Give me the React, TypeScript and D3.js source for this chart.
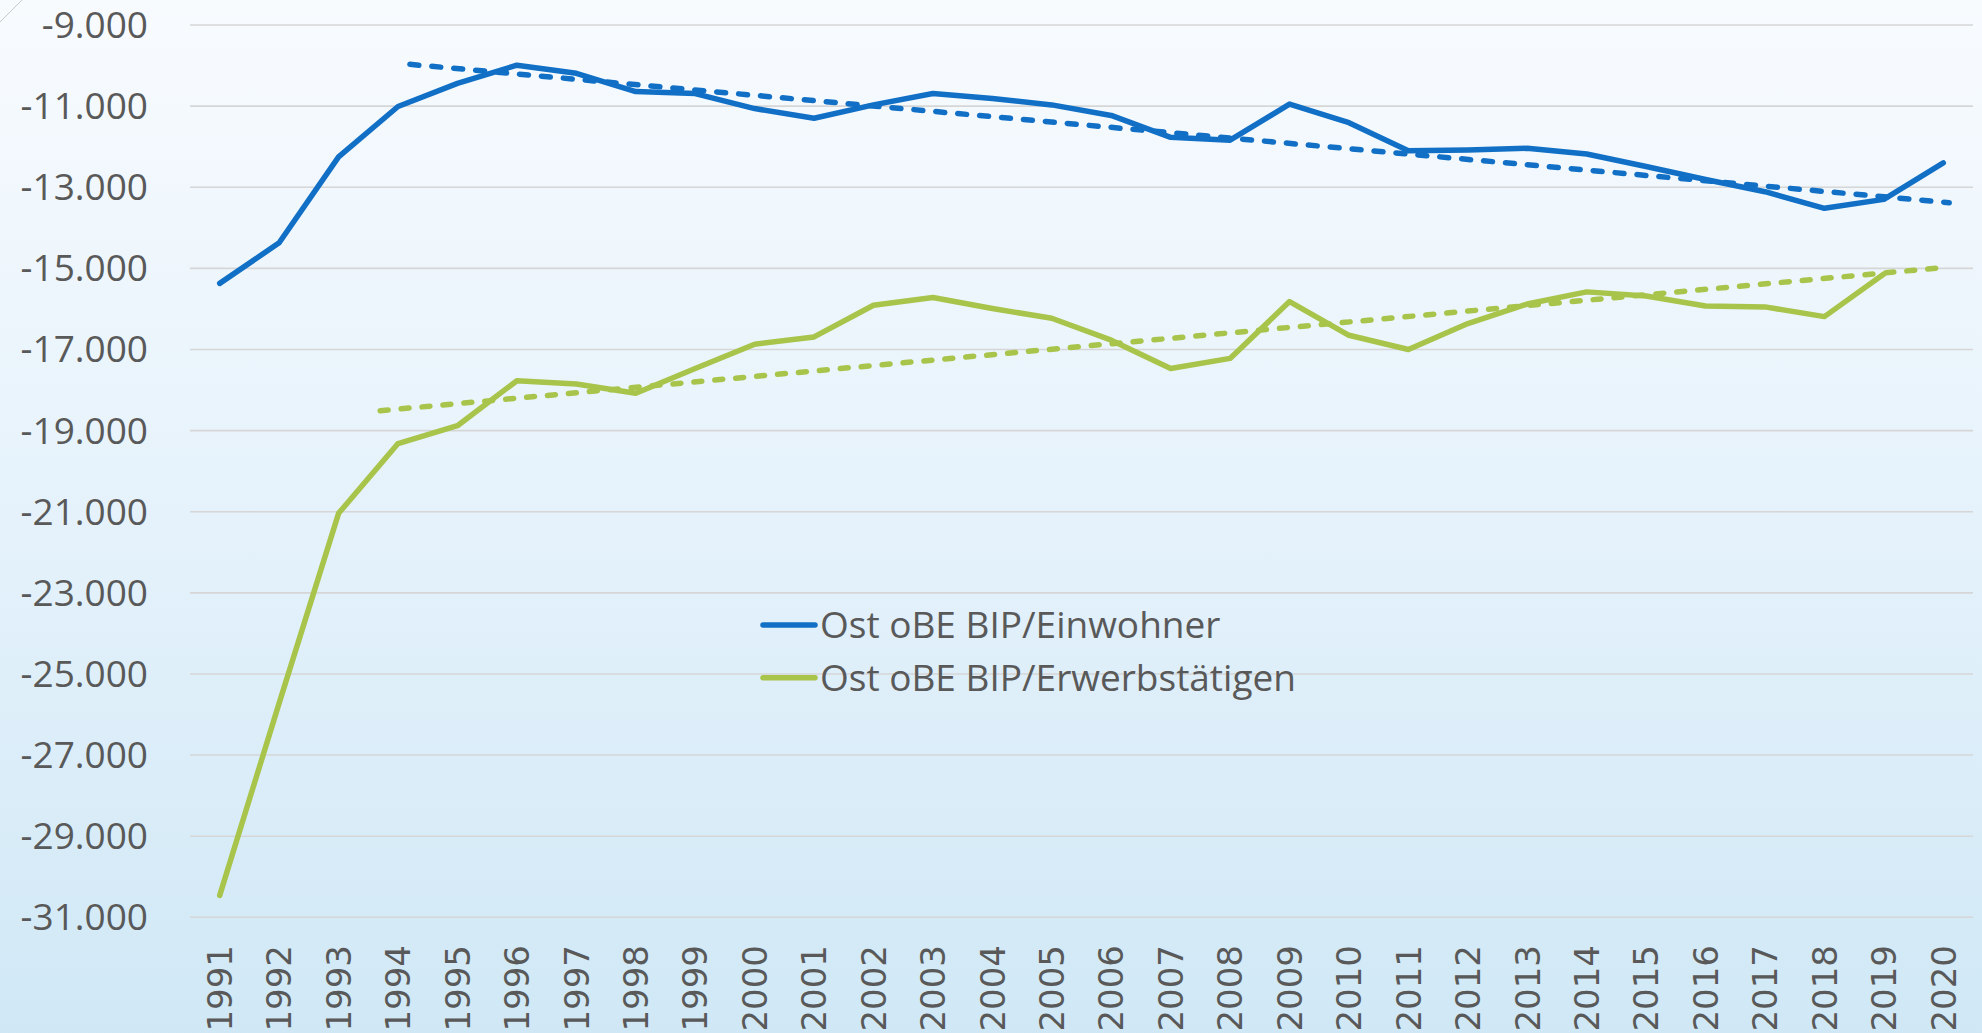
import React from "react";
import * as d3 from "d3";

const years: string[] = d3.range(1991, 2021).map(String);
const yTicks: number[] = d3.range(-31000, -8999, 2000);

const seriesNames: string[] = ["Ost oBE BIP/Einwohner", "Ost oBE BIP/Erwerbstätigen"];

const bipEinwohner: number[] = [
  -15370, -14370, -12250, -11010, -10440, -9990, -10190, -10640, -10690, -11060,
  -11300, -10970, -10690, -10810, -10970, -11230, -11770, -11840, -10950, -11410,
  -12100, -12080, -12040, -12180, -12490, -12810, -13110, -13520, -13300, -12400,
];

const bipErwerbstaetige: (number | null)[] = [
  -30460, -25720, -21040, -19320, -18880, -17770, -17850, -18080, -17470, -16870,
  -16690, -15910, -15720, -15990, -16230, -16770, -17470, -17220, -15820, -16650,
  -17000, -16360, -15880, -15580, -15680, -15930, -15950, -16190, -15140, null,
];

// trend lines: [start year, end year] and [start value, end value]
const blueTrendYears: number[] = [1994.2, 2020.1];
const blueTrendValues: number[] = [-9970, -13380];
const greenTrendYears: number[] = [1993.7, 2020];
const greenTrendValues: number[] = [-18510, -14980];

const W = 1982;
const H = 1033;
const BLUE = "#1170c6";
const GREEN = "#a8c44a";
const TEXT = "#595959";

export default function App() {
  const x = d3.scaleBand<string>().domain(years).range([190, 1973]).padding(0);
  const bw = x.bandwidth();
  const cx = (yr: string) => (x(yr) as number) + bw / 2;
  const y = d3.scaleLinear().domain([-31000, -9000]).range([917.3, 25]);
  const xYear = d3
    .scaleLinear()
    .domain([1991, 2020])
    .range([cx("1991"), cx("2020")]);

  const line = d3
    .line<number | null>()
    .defined((d) => d !== null)
    .x((_, i) => cx(years[i]))
    .y((d) => y(d as number));

  const trendLine = (ys: number[], vs: number[]) =>
    d3
      .line<number>()
      .x((d) => xYear(d))
      .y((_, i) => y(vs[i]))(ys) as string;

  const tickFont = "'Open Sans', sans-serif";

  return (
    <div style={{ position: "fixed", left: 0, top: 0 }}>
      <svg width={W} height={H} style={{ display: "block" }}>
        <defs>
          <linearGradient id="bg" x1="0" y1="0" x2="0" y2="1">
            <stop offset="0%" stopColor="#f8fbfe" />
            <stop offset="50%" stopColor="#e5f2fb" />
            <stop offset="100%" stopColor="#d0e8f6" />
          </linearGradient>
        </defs>
        <rect x={0} y={0} width={W} height={H} fill="url(#bg)" />
        <line x1={0} y1={22} x2={22} y2={0} stroke="#c8c8c8" strokeWidth={1} />

        {/* gridlines */}
        {yTicks.map((t) => (
          <line
            key={t}
            x1={190}
            x2={1973}
            y1={y(t)}
            y2={y(t)}
            stroke="#d6d6d6"
            strokeWidth={1.6}
          />
        ))}

        {/* y tick labels */}
        {yTicks.map((t) => (
          <text
            key={"l" + t}
            x={148}
            y={y(t)}
            dy="0.35em"
            textAnchor="end"
            fontFamily={tickFont}
            fontSize={37}
            fill={TEXT}
          >
            {d3.format(",")(t).replace(/,/g, ".").replace("−", "-")}
          </text>
        ))}

        {/* x tick labels */}
        {years.map((yr) => (
          <text
            key={yr}
            transform={`translate(${cx(yr)},945) rotate(-90)`}
            dy="0.36em"
            textAnchor="end"
            fontFamily="'DejaVu Sans', sans-serif"
            fontSize={34}
            fill={TEXT}
          >
            {yr}
          </text>
        ))}

        {/* trend lines */}
        <path
          d={trendLine(blueTrendYears, blueTrendValues)}
          fill="none"
          stroke={BLUE}
          strokeWidth={5.5}
          strokeDasharray="9,13"
          strokeLinecap="round"
        />
        <path
          d={trendLine(greenTrendYears, greenTrendValues)}
          fill="none"
          stroke={GREEN}
          strokeWidth={5.5}
          strokeDasharray="8,13"
          strokeLinecap="round"
        />

        {/* series */}
        <path
          d={line(bipEinwohner) as string}
          fill="none"
          stroke={BLUE}
          strokeWidth={5.5}
          strokeLinejoin="round"
          strokeLinecap="round"
        />
        <path
          d={line(bipErwerbstaetige) as string}
          fill="none"
          stroke={GREEN}
          strokeWidth={5.5}
          strokeLinejoin="round"
          strokeLinecap="round"
        />

        {/* legend */}
        {seriesNames.map((name, i) => {
          const ly = 625 + i * 52.7;
          return (
            <g key={name}>
              <line
                x1={763}
                x2={815}
                y1={ly}
                y2={ly}
                stroke={i === 0 ? BLUE : GREEN}
                strokeWidth={5.5}
                strokeLinecap="round"
              />
              <text
                x={820}
                y={ly}
                dy="0.35em"
                fontFamily={tickFont}
                fontSize={37}
                fill={TEXT}
              >
                {name}
              </text>
            </g>
          );
        })}
      </svg>
    </div>
  );
}
